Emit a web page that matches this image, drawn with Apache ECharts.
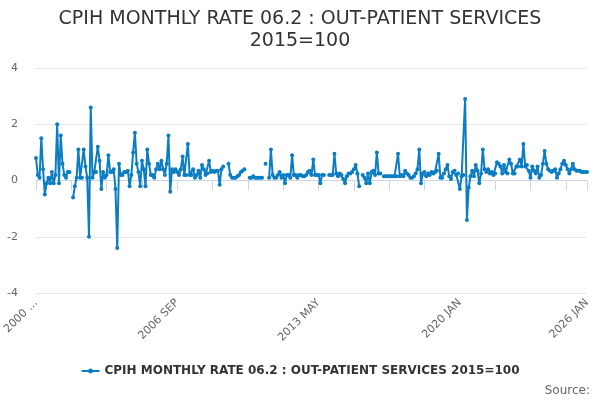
<!DOCTYPE html>
<html>
<head>
<meta charset="utf-8">
<script src="https://cdn.jsdelivr.net/npm/echarts@6/dist/echarts.min.js"></script>
<style>
  html, body { margin: 0; padding: 0; background: #ffffff; }
  #chart { width: 600px; height: 400px; }
</style>
</head>
<body>
<div id="chart"></div>
<script>
// monthly categories, 2000 JAN .. 2026 JAN
var monthNames = ['JAN', 'FEB', 'MAR', 'APR', 'MAY', 'JUN', 'JUL', 'AUG', 'SEP', 'OCT', 'NOV', 'DEC'];
var startYear = 2000;
var monthCount = 313;

// monthly rate (%); null = no value
var rate2000to2003 = [
  0.8, 0.2, 0.1, 1.5, 0.4, -0.5, -0.1, 0.1, -0.1, 0.3, -0.1, 0.2,
  2.0, -0.1, 1.6, 0.6, 0.2, 0.1, 0.3, 0.3, null, -0.6, -0.2, 0.1,
  1.1, 0.1, 0.1, 1.1, 0.5, 0.1, -2.0, 2.6, 0.1, 0.3, 0.3, 1.2,
  0.7, -0.3, 0.3, 0.1, 0.2, 0.9, 0.3, 0.3, 0.4, -0.3, -2.4, 0.6
];
var rate2004to2007 = [
  0.2, 0.2, 0.3, 0.3, 0.35, -0.2, 0.2, 1.0, 1.7, 0.6, 0.3, -0.2,
  0.7, 0.4, -0.2, 1.1, 0.6, 0.2, 0.2, 0.1, 0.4, 0.6, 0.4, 0.7,
  0.4, 0.2, 0.6, 1.6, -0.4, 0.4, 0.3, 0.4, 0.3, 0.2, 0.4, 0.85,
  0.2, 0.2, 1.3, 0.2, 0.2, 0.4, 0.1, 0.2, 0.35, 0.1, 0.55, 0.4
];
var rate2008to2011 = [
  0.2, 0.25, 0.7, 0.3, 0.35, 0.3, 0.35, 0.35, -0.15, 0.4, 0.5, null,
  null, 0.6, 0.2, 0.1, 0.1, 0.1, 0.15, 0.2, 0.3, 0.35, 0.4, null,
  null, 0.1, 0.1, 0.15, 0.1, 0.1, 0.1, 0.1, 0.1, null, 0.6, null,
  0.1, 1.1, 0.2, 0.1, 0.1, 0.2, 0.3, 0.1, 0.2, -0.1, 0.2, 0.2
];
var rate2012to2015 = [
  0.1, 0.9, 0.2, 0.2, 0.1, 0.2, 0.2, 0.15, 0.15, 0.2, 0.3, 0.35,
  0.2, 0.75, 0.2, 0.2, 0.2, -0.1, 0.2, 0.2, null, null, 0.2, 0.2,
  0.2, 0.95, 0.25, 0.15, 0.25, 0.2, 0.05, -0.1, 0.15, 0.25, 0.25, 0.3,
  0.4, 0.55, 0.25, -0.2, null, 0.2, 0.1, -0.1, 0.25, -0.1, 0.3, 0.35
];
var rate2016to2019 = [
  0.2, 1.0, 0.25, 0.25, null, 0.15, 0.15, 0.15, 0.15, 0.15, 0.15, 0.15,
  0.15, 0.95, 0.15, 0.2, 0.15, 0.35, 0.25, 0.2, 0.1, 0.1, 0.15, 0.25,
  0.4, 1.1, -0.1, 0.25, 0.3, 0.15, 0.25, 0.2, 0.3, 0.25, 0.3, 0.35,
  0.95, 0.1, 0.1, 0.25, 0.4, 0.55, 0.15, 0.05, 0.3, 0.35, 0.2, 0.25
];
var rate2020to2023 = [
  -0.3, 0.15, 0.2, 2.9, -1.4, -0.25, 0.15, 0.35, 0.15, 0.55, 0.35, -0.1,
  0.25, 1.1, 0.4, 0.3, 0.4, 0.25, 0.3, 0.2, 0.25, 0.65, 0.6, 0.5,
  0.25, 0.55, 0.3, 0.25, 0.75, 0.6, 0.25, 0.25, 0.5, 0.5, 0.75, 0.5,
  1.3, 0.5, 0.55, 0.35, 0.1, 0.5, 0.35, 0.25, 0.5, 0.1, 0.2, 0.6
];
var rate2024to2026 = [
  1.05, 0.6, 0.4, 0.35, 0.3, 0.35, 0.4, 0.1, 0.25, 0.4, 0.6, 0.7,
  0.55, 0.4, 0.25, 0.4, 0.6, 0.4, 0.35, 0.35, 0.35, 0.3, 0.3, 0.3,
  0.3
];

var yTicks = [-4, -2, 0, 2, 4];
var seriesName = 'CPIH MONTHLY RATE 06.2 : OUT-PATIENT SERVICES 2015=100';

var categories = [];
for (var i = 0; i < monthCount; i++) {
  categories.push((startYear + Math.floor(i / 12)) + ' ' + monthNames[i % 12]);
}

var rates = [].concat(rate2000to2003, rate2004to2007, rate2008to2011,
  rate2012to2015, rate2016to2019, rate2020to2023, rate2024to2026);

var lastIndex = categories.length - 1;
var blue = '#0b7dc3';
var axisBlue = '#ccd6eb';
var font = 'DejaVu Sans';

var chart = echarts.init(document.getElementById('chart'), null, { renderer: 'canvas' });

var option = {
  backgroundColor: '#ffffff',
  animation: false,
  textStyle: { fontFamily: font },
  title: {
    text: 'CPIH MONTHLY RATE 06.2 : OUT-PATIENT SERVICES\n2015=100',
    left: 'center',
    top: 3,
    textStyle: {
      fontFamily: font,
      fontSize: 19,
      fontWeight: 'normal',
      color: '#333333',
      lineHeight: 22
    }
  },
  legend: {
    bottom: 18,
    left: 'center',
    itemWidth: 18,
    itemHeight: 6,
    textStyle: { fontFamily: font, fontSize: 12, fontWeight: 'bold', color: '#333333' },
    data: [seriesName]
  },
  graphic: [{
    type: 'text',
    right: 10,
    bottom: 3,
    style: { text: 'Source:', font: '12px ' + font, fill: '#666666' }
  }],
  grid: {
    left: 36,
    right: 13,
    top: 68,
    bottom: 107,
    outerBoundsMode: 'none'
  },
  xAxis: {
    type: 'category',
    boundaryGap: false,
    data: categories,
    axisLine: { lineStyle: { color: axisBlue, width: 1 } },
    axisTick: {
      length: 10,
      lineStyle: { color: axisBlue },
      interval: function (index) { return index % 20 === 0 || index === lastIndex; }
    },
    axisLabel: {
      rotate: 45,
      color: '#666666',
      fontSize: 11,
      fontFamily: font,
      margin: 8,
      interval: function (index) { return index % 80 === 0 || index === lastIndex; },
      formatter: function (value, index) {
        return index === 0 ? value.slice(0, 4) + ' \u2026' : value;
      }
    },
    splitLine: { show: false }
  },
  yAxis: {
    type: 'value',
    min: yTicks[0],
    max: yTicks[yTicks.length - 1],
    interval: 2,
    axisLine: { show: false },
    axisTick: { show: false },
    axisLabel: { color: '#666666', fontSize: 11, fontFamily: font, margin: 18 },
    splitLine: { lineStyle: { color: '#e6e6e6', width: 1 } }
  },
  series: [{
    name: seriesName,
    type: 'line',
    data: rates,
    connectNulls: false,
    showSymbol: true,
    showAllSymbol: true,
    symbol: 'circle',
    symbolSize: 4,
    lineStyle: { color: blue, width: 2 },
    itemStyle: { color: blue },
    emphasis: { disabled: true }
  }]
};

chart.setOption(option);
</script>
</body>
</html>
